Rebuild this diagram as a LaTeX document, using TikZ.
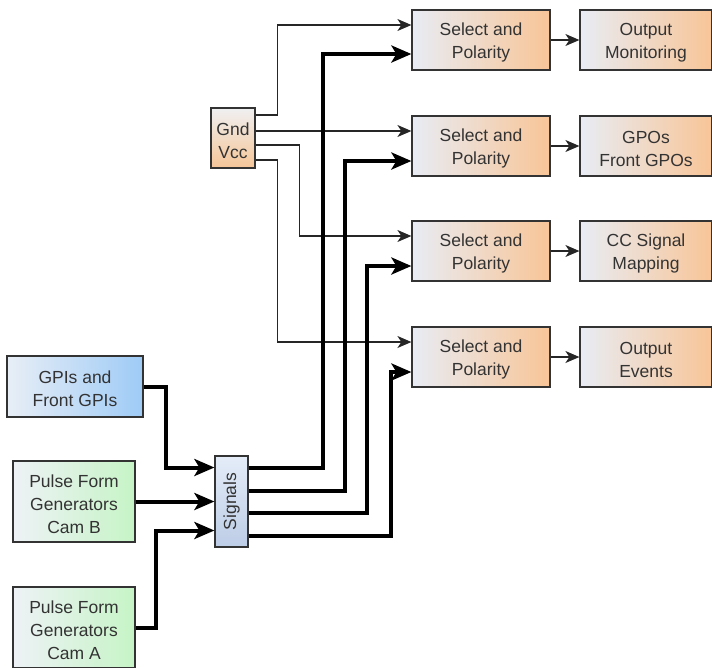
\documentclass[tikz,border=0pt]{standalone}
\usepackage{fontspec}
\setmainfont{Liberation Sans}
\usetikzlibrary{arrows.meta,calc}
\definecolor{selL}{HTML}{E8ECF4}
\definecolor{selR}{HTML}{F8C597}
\definecolor{gpiL}{HTML}{E8EEF6}
\definecolor{gpiR}{HTML}{9ECBF6}
\definecolor{camL}{HTML}{EEF2F6}
\definecolor{camR}{HTML}{C6F4C6}
\definecolor{sigT}{HTML}{E4ECF8}
\definecolor{sigB}{HTML}{BDCDE6}
\definecolor{gvT}{HTML}{F0F0F2}
\definecolor{gvB}{HTML}{F5C597}
\definecolor{bordercol}{HTML}{333333}
\definecolor{textcol}{HTML}{333333}
\newcommand{\topstrut}{\rule{0pt}{18pt}}
\begin{document}
\begin{tikzpicture}[x=1pt,y=-1pt,
  box/.style={draw=bordercol, line width=1.2pt, align=center, text=textcol,
    font=\fontsize{17.5}{23}\selectfont, inner sep=0pt},
  selbox/.style={box, minimum width=138pt, minimum height=60pt, left color=selL, right color=selR},
  outbox/.style={box, minimum width=132pt, minimum height=60pt, left color=selL, right color=selR},
  gpibox/.style={box, minimum width=136pt, minimum height=61pt, left color=gpiL, right color=gpiR},
  cambox/.style={box, minimum width=122pt, minimum height=81pt, left color=camL, right color=camR},
  sigbox/.style={box, minimum width=33pt, minimum height=91pt, top color=sigT, bottom color=sigB},
  gvbox/.style={box, minimum width=44pt, minimum height=60pt, top color=gvT, bottom color=gvB},
  txt/.style={text=textcol, font=\fontsize{17.5}{23}\selectfont, inner sep=0pt},
  thinarrow/.style={line width=1.3pt, draw=black!85, -{Stealth[length=14pt,width=12pt,inset=4pt]}},
  thickarrow/.style={line width=4pt, draw=black, -{Stealth[length=20pt,width=17pt,inset=5pt]}}
]
\clip (0,0) rectangle (712,667);

% select boxes
\node[selbox] (s1) at (481,40) {\topstrut Select and\\Polarity};
\node[selbox] (s2) at (481,146) {\topstrut Select and\\Polarity};
\node[selbox] (s3) at (481,251) {\topstrut Select and\\Polarity};
\node[selbox] (s4) at (481,357) {\topstrut Select and\\Polarity};

% output boxes
\node[outbox] (o1) at (646,40) {\topstrut Output\\Monitoring};
\node[outbox] (o2) at (646,146) {\topstrut GPOs\\Front GPOs};
\node[outbox] (o3) at (646,251) {\topstrut CC Signal\\Mapping};
\node[outbox] (o4) at (646,357) {\topstrut Output\\Events};

% Gnd Vcc
\node[gvbox] (gv) at (233,138) {\topstrut Gnd\\Vcc};

% Signals
\node[sigbox] (sig) at (231.5,501.5) {};
\node[txt, rotate=90] (sigtxt) at (sig.center) {Signals};

% sources
\node[gpibox] (gpi) at (75,386.5) {\topstrut GPIs and\\Front GPIs};
\node[cambox] (camb) at (74,501.5) {\topstrut Pulse Form\\Generators\\Cam B};
\node[cambox] (cama) at (74,627.5) {\topstrut Pulse Form\\Generators\\Cam A};

% select -> output
\foreach \i in {1,2,3,4} {
  \draw[thinarrow] (s\i.east) -- (o\i.west);
}

% Gnd/Vcc lines
\draw[thinarrow] ([yshift=23pt]gv.east) -- ++(22,0) |- ([yshift=15pt]s1.west);
\draw[thinarrow] ([yshift=7pt]gv.east) -- ([yshift=15pt]s2.west);
\draw[thinarrow] ([yshift=-7pt]gv.east) -- ++(44,0) |- ([yshift=15pt]s3.west);
\draw[thinarrow] ([yshift=-22pt]gv.east) -- ++(22,0) |- ([yshift=15pt]s4.west);

% Signals lines
\draw[thickarrow] ([yshift=34pt]sig.east) -- ++(74,0) |- ([yshift=-14pt]s1.west);
\draw[thickarrow] ([yshift=11pt]sig.east) -- ++(96,0) |- ([yshift=-15pt]s2.west);
\draw[thickarrow] ([yshift=-11pt]sig.east) -- ++(118,0) |- ([yshift=-15pt]s3.west);
\draw[thickarrow] ([yshift=-34pt]sig.east) -- ++(142,0) |- ([yshift=-15pt]s4.west);

% inputs
\draw[thickarrow] (gpi.east) -- ++(22,0) |- ([yshift=34pt]sig.west);
\draw[thickarrow] (camb.east) -- (camb.east -| sig.west);
\draw[thickarrow] (cama.east) -- ++(20,0) |- ([yshift=-29pt]sig.west);
\end{tikzpicture}
\end{document}
